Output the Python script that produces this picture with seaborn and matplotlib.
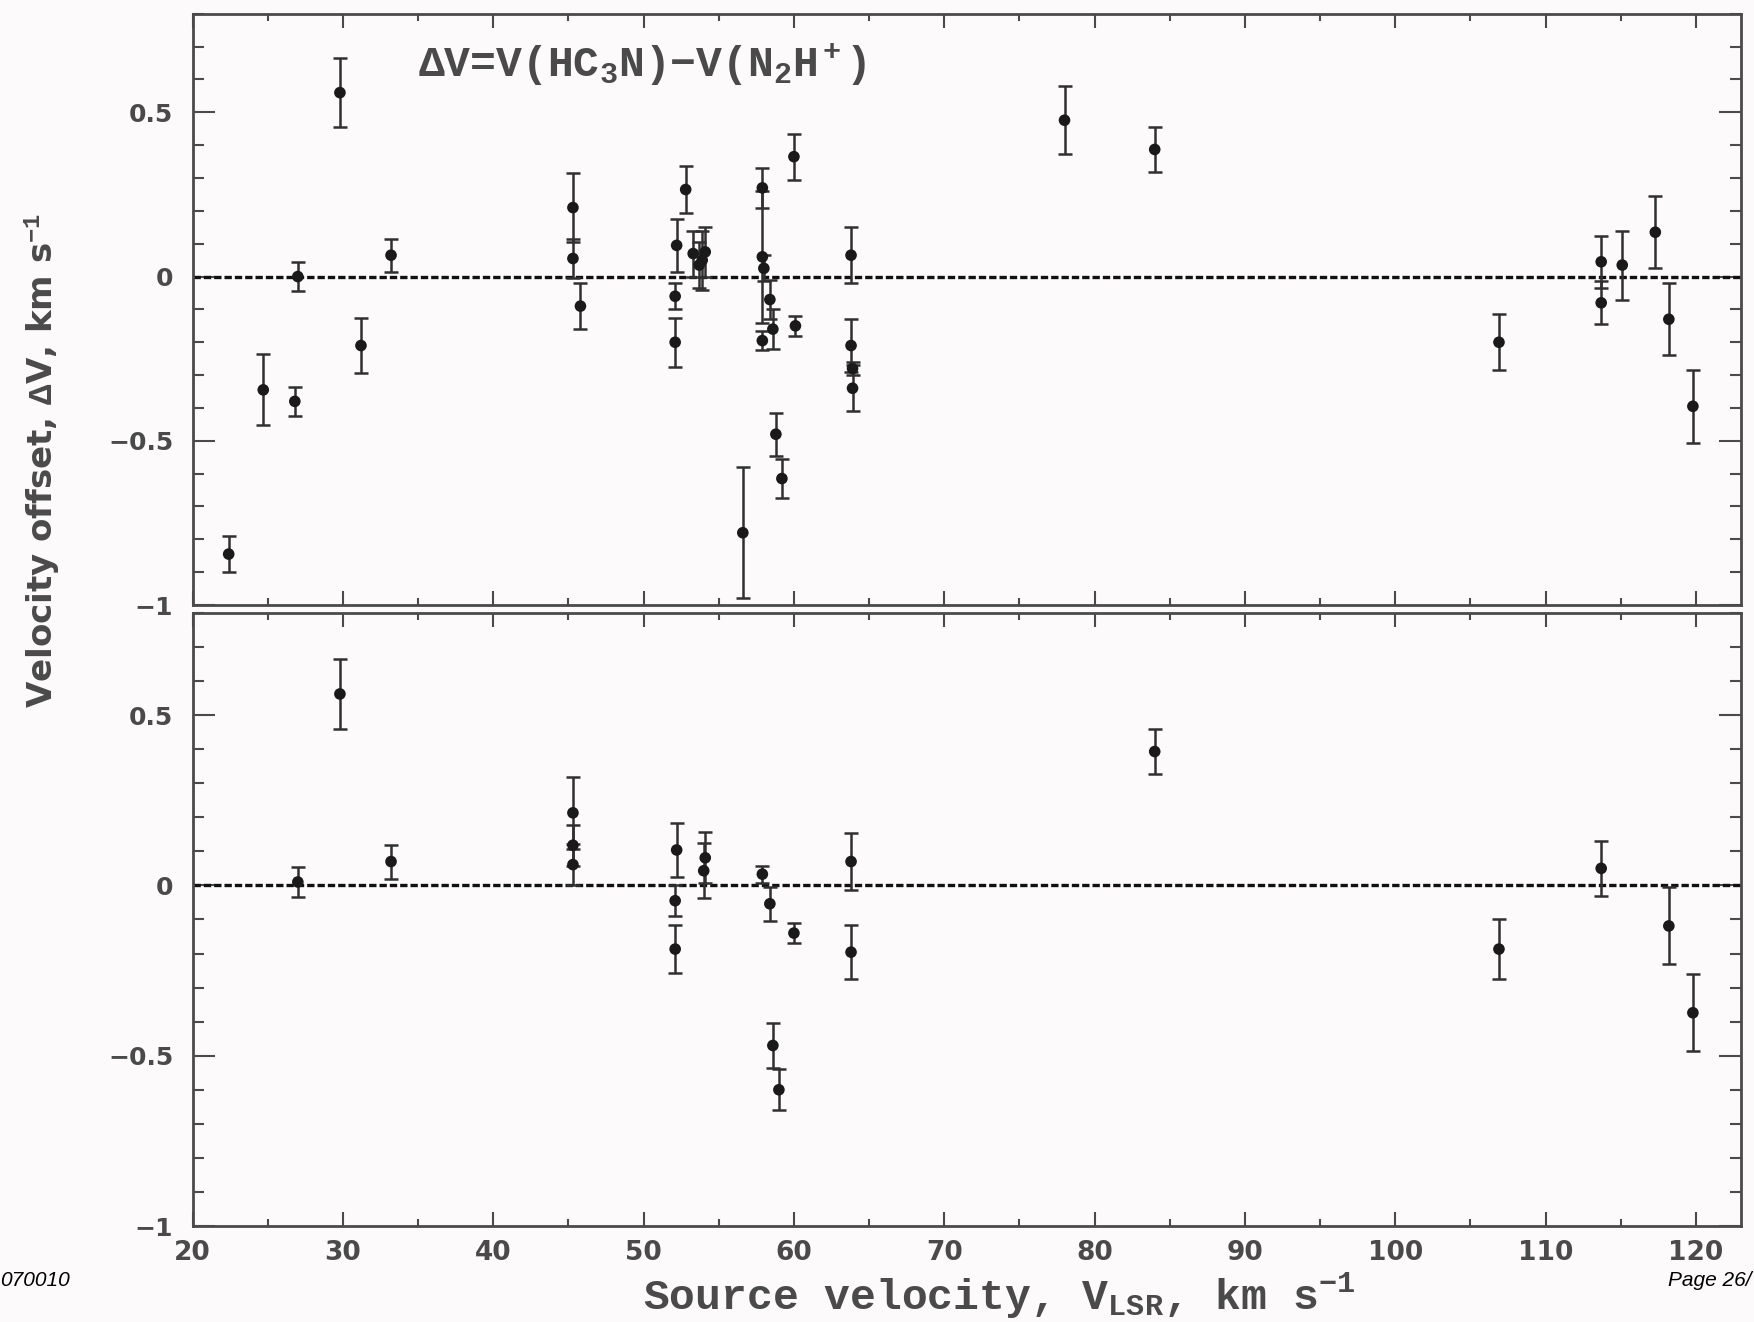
import numpy as np
import pandas as pd
import matplotlib
matplotlib.use("Agg")
import matplotlib.pyplot as plt
import seaborn as sns
from matplotlib.ticker import MultipleLocator, FixedLocator

# ---------------- data ----------------
top_v = [22.4, 24.7, 26.8, 27.0, 29.8, 31.2, 33.2, 45.3, 45.3, 45.8,
         52.2, 52.1, 52.1, 52.8, 53.3, 53.7, 54.1, 53.9, 56.6, 57.9,
         57.9, 58.0, 57.9, 58.4, 58.6, 58.8, 59.2, 60.0, 60.1, 63.8,
         63.8, 63.9, 63.9, 78.0, 84.0, 106.9, 113.7, 113.7, 115.1, 117.3,
         118.2, 119.8]
top_dv = [-0.845, -0.345, -0.38, 0.0, 0.56, -0.21, 0.065, 0.21, 0.055, -0.09,
          0.095, -0.06, -0.20, 0.265, 0.07, 0.035, 0.075, 0.05, -0.78, 0.27,
          0.06, 0.025, -0.195, -0.07, -0.16, -0.48, -0.615, 0.365, -0.15, 0.065,
          -0.21, -0.28, -0.34, 0.476, 0.387, -0.20, 0.045, -0.08, 0.035, 0.135,
          -0.13, -0.395]
top_err = [0.055, 0.108, 0.045, 0.045, 0.105, 0.085, 0.05, 0.105, 0.06, 0.07,
           0.08, 0.04, 0.075, 0.072, 0.07, 0.07, 0.075, 0.09, 0.2, 0.06,
           0.2, 0.04, 0.03, 0.06, 0.06, 0.065, 0.06, 0.07, 0.03, 0.085,
           0.08, 0.02, 0.07, 0.104, 0.068, 0.085, 0.08, 0.065, 0.105, 0.11,
           0.11, 0.112]

bot_v = [27.0, 29.8, 33.2, 45.3, 45.3, 45.3, 52.2, 52.1, 52.1, 54.1,
         54.0, 57.9, 58.4, 60.0, 58.6, 59.0, 63.8, 63.8, 84.0, 106.9,
         113.7, 118.2, 119.8]
bot_dv = [0.01, 0.562, 0.07, 0.213, 0.118, 0.061, 0.104, -0.045, -0.187, 0.081,
          0.043, 0.033, -0.054, -0.14, -0.47, -0.60, 0.07, -0.196, 0.393, -0.187,
          0.05, -0.119, -0.374]
bot_err = [0.045, 0.104, 0.05, 0.105, 0.06, 0.06, 0.08, 0.045, 0.07, 0.075,
           0.08, 0.025, 0.05, 0.03, 0.065, 0.06, 0.085, 0.08, 0.067, 0.088,
           0.08, 0.113, 0.113]

x_ticks = [20, 30, 40, 50, 60, 70, 80, 90, 100, 110, 120]
y_ticks = [0.5, 0, -0.5, -1]
y_tick_labels = ["0.5", "0", "\u22120.5", "\u22121"]

title_text = r"$\Delta$V=V(HC$_3$N)$-$V(N$_2$H$^+$)"
xlabel_text = r"Source velocity, V$_{\mathrm{LSR}}$, km s$^{-1}$"
ylabel_text = r"Velocity offset, $\Delta$V, km s$^{-1}$"

# ---------------- style ----------------
sns.set_theme(style="white")
bg = "#fcfafa"
ink = "#4a4a4a"
plt.rcParams["font.family"] = ["DejaVu Sans"]
plt.rcParams["mathtext.fontset"] = "custom"
plt.rcParams["mathtext.rm"] = "Liberation Mono:bold"
plt.rcParams["mathtext.it"] = "Liberation Mono:bold"
plt.rcParams["mathtext.bf"] = "Liberation Mono:bold"

W, H = 1754, 1322
fig = plt.figure(figsize=(W / 100, H / 100), dpi=100, facecolor=bg)

left = 192.6 / W
right = 1741 / W
ax_top = fig.add_axes([left, 1 - 605 / H, right - left, (605 - 13.8) / H])
ax_bot = fig.add_axes([left, 1 - 1226 / H, right - left, (1226 - 612.9) / H])

dfs = [pd.DataFrame({"v": top_v, "dv": top_dv, "err": top_err}),
       pd.DataFrame({"v": bot_v, "dv": bot_dv, "err": bot_err})]

for ax, df in zip([ax_top, ax_bot], dfs):
    ax.set_facecolor(bg)
    ax.axhline(0, color="#111111", lw=2.4, ls=(0, (2.2, 0.9)), zorder=1)
    ax.errorbar(df["v"], df["dv"], yerr=df["err"], fmt="none",
                ecolor="#303030", elinewidth=1.8, capsize=5, capthick=1.8,
                zorder=2)
    sns.scatterplot(data=df, x="v", y="dv", ax=ax, color="#1a1a1a", s=70,
                    edgecolor="none", zorder=3, legend=False)
    ax.set_xlim(20, 123)
    ax.set_ylim(-1, 0.8)
    ax.set_xlabel("")
    ax.set_ylabel("")
    ax.xaxis.set_major_locator(FixedLocator(x_ticks))
    ax.xaxis.set_minor_locator(MultipleLocator(5))
    ax.yaxis.set_major_locator(FixedLocator(y_ticks))
    ax.yaxis.set_minor_locator(MultipleLocator(0.1))
    ax.set_yticklabels(y_tick_labels)
    ax.tick_params(axis="both", which="both", direction="in",
                   top=True, bottom=True, left=True, right=True,
                   color=ink, width=1.5, labelcolor=ink)
    ax.tick_params(axis="x", which="major", length=10)
    ax.tick_params(axis="x", which="minor", length=5)
    ax.tick_params(axis="y", which="major", length=16, pad=14)
    ax.tick_params(axis="y", which="minor", length=8)
    for lab in ax.get_yticklabels():
        lab.set_fontsize(18)
        lab.set_fontweight("bold")
    for sp in ax.spines.values():
        sp.set_color(ink)
        sp.set_linewidth(2.0)

ax_top.set_xticklabels([])
ax_bot.set_xticklabels([str(t) for t in x_ticks], fontsize=19,
                       fontweight="bold", color=ink)
ax_bot.tick_params(axis="x", which="major", pad=10)

ax_top.text(418 / W, 1 - 65 / H, title_text, transform=fig.transFigure,
            fontsize=31, family="Liberation Mono", fontweight="bold",
            color=ink, ha="left", va="center")

fig.text(999 / W, 1 - 1296 / H, xlabel_text, fontsize=31,
         family="Liberation Mono", fontweight="bold", color=ink,
         ha="center", va="center")

fig.text(43 / W, 1 - 460 / H, ylabel_text, rotation=90, fontsize=24.5,
         family="DejaVu Sans", fontweight="bold", color=ink,
         ha="center", va="center")

fig.text(0.0, 1 - 1281 / H, "070010", fontsize=15, style="italic",
         family="Liberation Sans", color="black", ha="left", va="center")
fig.text(1668 / W, 1 - 1280 / H, "Page 26/", fontsize=15, style="italic",
         family="Liberation Sans", color="black", ha="left", va="center")

fig.savefig("out.png", dpi=100, facecolor=bg)
